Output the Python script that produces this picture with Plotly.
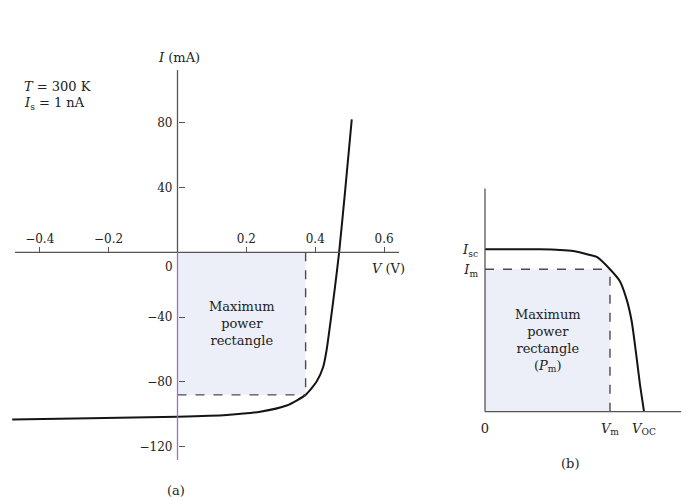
import plotly.graph_objects as go

W, H = 686, 500
FONT = "DejaVu Serif"
INK = "#222222"
AXIS = "#555555"
PURPLE = "#9a70c8"
FILL = "rgb(236,239,247)"

# ---- Panel (a): solar-cell I-V curve, T = 300 K, Is = 1 nA ----
v_a = [-0.480, -0.254, 0.000, 0.143, 0.240, 0.317, 0.372, 0.404,
       0.423, 0.433, 0.443, 0.457, 0.469, 0.487, 0.506]
i_a = [-103.2, -102.5, -101.5, -100.4, -98.4, -94.6, -88.0, -79.8,
       -70.8, -60.3, -44.9, -22.0, -0.6, 38.5, 82.1]
vm_a, im_a = 0.372, -88.0              # maximum power point
x_ticks_a = [-0.4, -0.2, 0.2, 0.4, 0.6]
x_labels_a = ["\u22120.4", "\u22120.2", "0.2", "0.4", "0.6"]
y_ticks_a = [80, 40, -40, -80, -120]
y_labels_a = ["80", "40", "\u221240", "\u221280", "\u2212120"]
x_line_a = [-0.472, 0.643]             # extent of the V axis line
y_line_a = [-128.2, 112.5]             # extent of the I axis line

# ---- Panel (b): generic curve in units of Voc and Isc ----
v_b = [0.000, 0.346, 0.472, 0.555, 0.660, 0.703, 0.786, 0.849,
       0.891, 0.923, 0.954, 0.975, 1.000]
i_b = [1.000, 1.000, 0.996, 0.989, 0.965, 0.953, 0.877, 0.802,
       0.690, 0.554, 0.329, 0.164, 0.000]
vm_b, im_b = 0.786, 0.877
voc_b, isc_b = 1.0, 1.0
x_line_b = [0.0, 1.233]
y_line_b = [0.0, 1.374]

# axis ranges chosen so both panels share one full-page frame
XR_A = [-0.5154, 1.4765]
YR_A = [-152.9, 155.74]
XR_B = [-3.050, 1.264]
YR_B = [-0.5437, 2.535]


def px(x):
    return x / W


def py(y):
    return 1 - y / H


fig = go.Figure()

fig.add_trace(go.Scatter(x=v_a, y=i_a, mode="lines",
                         line=dict(color="#141414", width=2, shape="spline", smoothing=0.6),
                         xaxis="x", yaxis="y", hoverinfo="skip"))
fig.add_trace(go.Scatter(x=v_b, y=i_b, mode="lines",
                         line=dict(color="#141414", width=2, shape="spline", smoothing=0.5),
                         xaxis="x2", yaxis="y2", hoverinfo="skip"))

shapes = []
# shaded maximum-power rectangles
shapes.append(dict(type="rect", xref="x", yref="y", x0=0, x1=vm_a, y0=im_a, y1=0,
                   fillcolor=FILL, line=dict(width=0), layer="below"))
shapes.append(dict(type="rect", xref="x2", yref="y2", x0=0, x1=vm_b, y0=0, y1=im_b,
                   fillcolor=FILL, line=dict(width=0), layer="below"))
# dashed guides to the maximum power point
dash = dict(color="#4a4a55", width=1.4, dash="dash")
shapes += [
    dict(type="line", xref="x", yref="y", x0=0, x1=vm_a, y0=im_a, y1=im_a, line=dash),
    dict(type="line", xref="x", yref="y", x0=vm_a, x1=vm_a, y0=0, y1=im_a, line=dash),
    dict(type="line", xref="x2", yref="y2", x0=0, x1=vm_b, y0=im_b, y1=im_b, line=dash),
    dict(type="line", xref="x2", yref="y2", x0=vm_b, x1=vm_b, y0=0, y1=im_b, line=dash),
]
# axis lines
shapes += [
    dict(type="line", xref="x", yref="y", x0=x_line_a[0], x1=x_line_a[1], y0=0, y1=0,
         line=dict(color=AXIS, width=1.3)),
    dict(type="line", xref="x", yref="y", x0=0, x1=0, y0=0, y1=y_line_a[1],
         line=dict(color=AXIS, width=1.3)),
    dict(type="line", xref="x", yref="y", x0=0, x1=0, y0=y_line_a[0], y1=0,
         line=dict(color=PURPLE, width=1.3)),
    dict(type="line", xref="x2", yref="y2", x0=x_line_b[0], x1=x_line_b[1], y0=0, y1=0,
         line=dict(color=AXIS, width=1.3)),
    dict(type="line", xref="x2", yref="y2", x0=0, x1=0, y0=0, y1=y_line_b[1],
         line=dict(color=AXIS, width=1.3)),
]

tickfont = dict(family=FONT, size=12, color=INK)
labfont = dict(family=FONT, size=13, color=INK)
common = dict(showgrid=False, zeroline=False, showline=False, fixedrange=True)

fig.update_layout(
    width=W, height=H,
    margin=dict(l=0, r=0, t=0, b=0),
    paper_bgcolor="white", plot_bgcolor="rgba(0,0,0,0)",
    showlegend=False,
    shapes=shapes,
    xaxis=dict(**common, range=XR_A, domain=[0, 1], anchor="free",
               position=py(252.3), side="top",
               tickmode="array", tickvals=x_ticks_a, ticktext=x_labels_a,
               ticks="outside", ticklen=5, tickwidth=1, tickcolor=AXIS, tickfont=tickfont),
    yaxis=dict(**common, range=YR_A, domain=[0, 1], anchor="free",
               position=px(177.5), side="left",
               tickmode="array", tickvals=y_ticks_a, ticktext=y_labels_a,
               ticks="inside", ticklen=6, tickwidth=1, tickcolor=AXIS, tickfont=tickfont,
               ticklabelstandoff=5),
    xaxis2=dict(**common, range=XR_B, domain=[0, 1], anchor="free", overlaying="x",
                position=py(411.7), side="bottom",
                tickmode="array", tickvals=[0, vm_b, voc_b],
                ticktext=["0", "<i>V</i><sub>m</sub>", "<i>V</i><sub>OC</sub>"],
                ticks="", tickfont=labfont, ticklabelstandoff=7),
    yaxis2=dict(**common, range=YR_B, domain=[0, 1], anchor="free", overlaying="y",
                position=px(485), side="left",
                tickmode="array", tickvals=[isc_b, im_b],
                ticktext=["<i>I</i><sub>sc</sub>", "<i>I</i><sub>m</sub>"],
                ticks="", tickfont=labfont, ticklabelstandoff=7),
)

txt = dict(family=FONT, size=13, color=INK)
ann = [
    dict(x=px(22), y=py(87), text="<i>T</i> = 300 K", xanchor="left"),
    dict(x=px(22), y=py(104), text="<i>I</i><sub>s</sub> = 1 nA", xanchor="left"),
    dict(x=px(179), y=py(58), text="<i>I</i> (mA)", xanchor="center"),
    dict(x=px(388), y=py(268), text="<i>V</i> (V)", xanchor="center"),
    dict(x=px(169), y=py(267), text="0", xanchor="center", font=tickfont),
    dict(x=px(176), y=py(490), text="(a)", xanchor="center"),
    dict(x=px(570), y=py(463), text="(b)", xanchor="center"),
]
for a in ann:
    a.update(xref="paper", yref="paper", yanchor="middle", showarrow=False)
    a.setdefault("font", txt)

ann.append(dict(x=vm_a / 2, y=im_a / 2, xref="x", yref="y", showarrow=False,
                text="Maximum<br>power<br>rectangle", font=txt, align="center"))
ann.append(dict(x=vm_b / 2, y=im_b / 2, xref="x2", yref="y2", showarrow=False,
                text="Maximum<br>power<br>rectangle<br>(<i>P</i><sub>m</sub>)",
                font=txt, align="center"))
fig.update_layout(annotations=ann)

fig.write_html("out.html")
